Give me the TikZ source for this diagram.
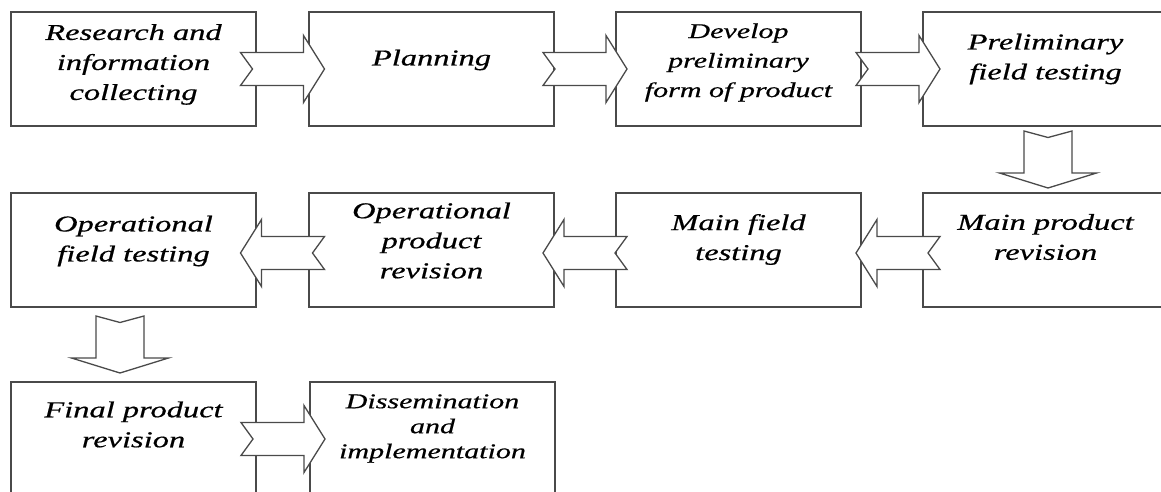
\documentclass[tikz,border=0pt]{standalone}
\usepackage{fontspec}
\setmainfont{Liberation Serif}[ItalicFont=Liberation Serif Italic,
  FakeStretch=1.43, FakeBold=0.6]
\usetikzlibrary{calc}

\definecolor{boxline}{HTML}{4A4A4A}

\tikzset{
  stepbox/.style={draw=boxline, line width=1.6pt, minimum width=245pt,
    minimum height=114pt, inner sep=0pt},
  steptext/.style={align=center, inner sep=0pt,
    font=\fontsize{22.7}{30}\selectfont\itshape},
  smalltext/.style={steptext, font=\fontsize{21}{29.5}\selectfont\itshape},
  flow/.style={draw=boxline, fill=white, line width=1.3pt, line join=miter},
}

% notched block arrow centred in the gap between two anchors
\newcommand\hflow[3][]{%
  \path ($(#2)!.5!(#3)$) coordinate (hmid);
  \draw[flow, shift={(hmid)}, #1] (-42,16.5) -- (21,16.5) -- (21,33.5)
    -- (42,0) -- (21,-33.5) -- (21,-16.5) -- (-42,-16.5) -- (-30,0) -- cycle;}
% same, pointing down from one row to the next
\newcommand\vflow[3]{%
  \path ($(#1.south)!.5!(#2.north)$) coordinate (vmid);
  \draw[flow, shift={(vmid)}, xshift=#3] (-24,28.5) -- (0,22) -- (24,28.5)
    -- (24,-13.5) -- (48.5,-13.5) -- (0,-28.5) -- (-48.5,-13.5)
    -- (-24,-13.5) -- cycle;}

\begin{document}
\begin{tikzpicture}[x=1pt, y=1pt]
  \useasboundingbox (0,0) rectangle (1161,491);
  \clip (0,0) rectangle (1161,491);

  % boxes
  \node[stepbox] (res) at (133.5,422) {};
  \node[stepbox] (plan) at (431.5,422) {};
  \node[stepbox] (dev) at (738.5,422) {};
  \node[stepbox] (prelim) at (1045.5,422) {};
  \node[stepbox] (opfield) at (133.5,241) {};
  \node[stepbox] (oprev) at (431.5,241) {};
  \node[stepbox] (mainfield) at (738.5,241) {};
  \node[stepbox] (mainrev) at (1045.5,241) {};
  \node[stepbox] (final) at (133.5,52) {};
  \node[stepbox] (dissem) at (432.5,52) {};

  % labels
  \node[steptext] (res-t) at ([yshift=4.5]res.center) {Research and\\information\\collecting};
  \node[steptext] (plan-t) at ([yshift=9]plan.center) {Planning};
  \node[smalltext] (dev-t) at ([yshift=6.5]dev.center) {Develop\\preliminary\\form of product};
  \node[steptext] (prelim-t) at ([yshift=10]prelim.center) {Preliminary\\field testing};
  \node[steptext] (opfield-t) at ([yshift=9]opfield.center) {Operational\\field testing};
  \node[steptext] (oprev-t) at ([yshift=9.5]oprev.center) {Operational\\product\\revision};
  \node[steptext] (mainfield-t) at ([yshift=10.5]mainfield.center) {Main field\\testing};
  \node[steptext] (mainrev-t) at ([yshift=13]mainrev.center) {Main product\\revision};
  \node[steptext] (final-t) at ([yshift=14.5]final.center) {Final product\\revision};
  \node[smalltext, font=\fontsize{21}{25}\selectfont\itshape] (dissem-t)
    at ([yshift=10.5]dissem.center) {Dissemination\\and\\implementation};

  % arrows
  \hflow{res.east}{plan.west}
  \hflow{plan.east}{dev.west}
  \hflow[xshift=6]{dev.east}{prelim.west}
  \vflow{prelim}{mainrev}{2.5}
  \hflow[xscale=-1, xshift=-6, yshift=-3]{mainrev.west}{mainfield.east}
  \hflow[xscale=-1, yshift=-3]{mainfield.west}{oprev.east}
  \hflow[xscale=-1, yshift=-3]{oprev.west}{opfield.east}
  \vflow{opfield}{final}{-13.5}
  \hflow{final.east}{dissem.west}
\end{tikzpicture}
\end{document}
